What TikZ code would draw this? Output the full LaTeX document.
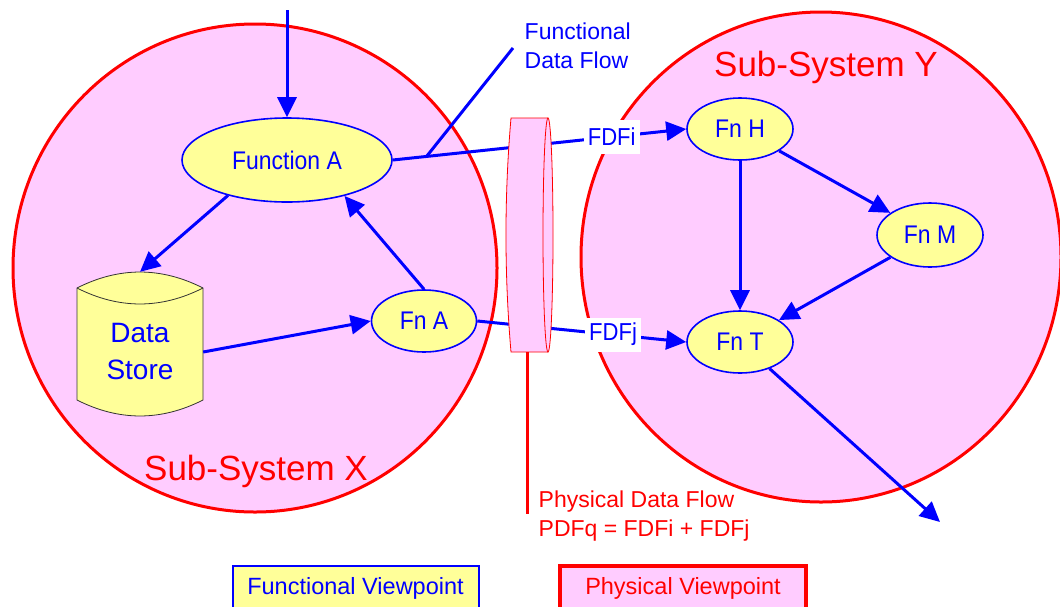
\documentclass[tikz,border=0pt]{standalone}
\usepackage{fontspec}
\setmainfont{Liberation Sans}
\newfontfamily\narrowsans{Liberation Sans}[FakeStretch=0.9]
\usetikzlibrary{arrows.meta,shapes.geometric,calc}
\definecolor{sspink}{RGB}{255,204,255}
\definecolor{fnyellow}{RGB}{255,255,153}
\begin{document}
\begin{tikzpicture}[x=1pt,y=-1pt,
  subsys/.style={ellipse, draw=red, line width=3pt, fill=sspink, inner sep=0pt},
  fnnode/.style={ellipse, draw=blue, line width=1.6pt, fill=fnyellow, inner sep=0pt,
    text=blue, font=\narrowsans\fontsize{25.5}{29}\selectfont},
  flowline/.style={draw=blue, line width=3pt},
  flow/.style={flowline, -{Triangle[length=20pt,width=19pt]}},
  fdflabel/.style={fill=white, text=blue, inner xsep=4pt, inner ysep=0pt,
    minimum height=34pt, font=\narrowsans\fontsize{24.5}{28}\selectfont},
  sslabel/.style={text=red, inner sep=0pt, font=\fontsize{35}{40}\selectfont},
  note/.style={inner sep=0pt, align=left, anchor=west, font=\fontsize{23}{29}\selectfont},
  legendbox/.style={minimum width=246pt, minimum height=44pt, inner sep=0pt,
    font=\fontsize{23.5}{27}\selectfont},
  connector/.style={draw=red, line width=0.8pt, fill=sspink},
]
\useasboundingbox (0,0) rectangle (1060,606);

% the two sub-systems
\node[subsys, minimum width=484pt, minimum height=488pt] (ssX) at (255,268) {};
\node[subsys, minimum width=480pt, minimum height=490pt] (ssY) at (821,257) {};
\node[sslabel] (ssXname) at (256,471.5) {Sub-System X};
\node[sslabel] (ssYname) at (826,67) {Sub-System Y};

% functions of sub-system X
\node[fnnode, minimum width=210pt, minimum height=84pt] (fnA) at (287,160) {Function A};
\node[fnnode, minimum width=105pt, minimum height=62pt] (fnAsub) at (424,321) {Fn A};

% data store drawn as a cylinder
\path[draw=black!80, line width=0.8pt, fill=fnyellow]
  (77,288) .. controls (119,266.7) and (161,266.7) .. (203,288)
  -- (203,400) .. controls (161,421.3) and (119,421.3) .. (77,400) -- cycle;
\draw[black!80, line width=0.8pt]
  (77,288) .. controls (119,309.3) and (161,309.3) .. (203,288);
\node[inner sep=0pt, minimum width=126pt, minimum height=144pt] (ds) at (140,344) {};
\node[text=blue, align=center, inner sep=0pt, font=\fontsize{28}{36.5}\selectfont]
  (dsText) at (140,351.5) {Data\\Store};

% functions of sub-system Y
\node[fnnode, minimum width=106pt, minimum height=62pt] (fnH) at (740,129) {Fn H};
\node[fnnode, minimum width=106pt, minimum height=64pt] (fnM) at (930,235) {Fn M};
\node[fnnode, minimum width=106pt, minimum height=62pt] (fnT) at (740,342) {Fn T};

% functional data flows
\coordinate (topIn) at (287,10);
\coordinate (out) at (940,522);
\coordinate (noteTip) at (513,48);
\draw[flow] (topIn) -- (fnA.north);
\draw[flow] (fnA.211) -- (ds.north);
\draw[flow] ($(ds.east)+(0,8)$) -- (fnAsub.west);
\draw[flow] (fnAsub.north) -- (fnA.328);
\draw[flow] (fnA.east) -- coordinate[pos=0.115] (tap)
  node[fdflabel, pos=0.746] (fdfi) {FDFi} (fnH.west);
\draw[flow] (fnAsub.east) -- node[fdflabel, pos=0.65] (fdfj) {FDFj} (fnT.west);
\draw[flow] (fnH) -- (fnM);
\draw[flow] (fnH.south) -- (fnT.north);
\draw[flow] (fnM) -- (fnT);
\draw[flow] (fnT) -- (out);
\draw[flowline] (tap) -- (noteTip);
\node[note, text=blue] (fdfNote) at (524.5,46) {Functional\\Data Flow};

% physical connector between the sub-systems
\path[fill=sspink] (511,118) -- (548,118) -- (548,352) -- (511,352)
  .. controls (504.3,274) and (504.3,196) .. (511,118) -- cycle;
\draw[connector] (548,235) ellipse [x radius=5, y radius=117];
\draw[connector, fill=none] (548,118) -- (511,118)
  .. controls (504.3,196) and (504.3,274) .. (511,352) -- (548,352);
\coordinate (connBase) at (527,352);
\coordinate (pdfEnd) at (527,514);
\draw[red, line width=3pt] (connBase) -- (pdfEnd);
\node[note, text=red] (pdfNote) at (538.5,516) {Physical Data Flow\\PDFq = FDFi + FDFj};

% legend
\node[legendbox, draw=blue, line width=2pt, fill=fnyellow, text=blue]
  (fview) at (355.5,588) {Functional Viewpoint};
\node[legendbox, draw=red, line width=3.5pt, fill=sspink, text=red]
  (pview) at (683,588) {Physical Viewpoint};
\end{tikzpicture}
\end{document}
